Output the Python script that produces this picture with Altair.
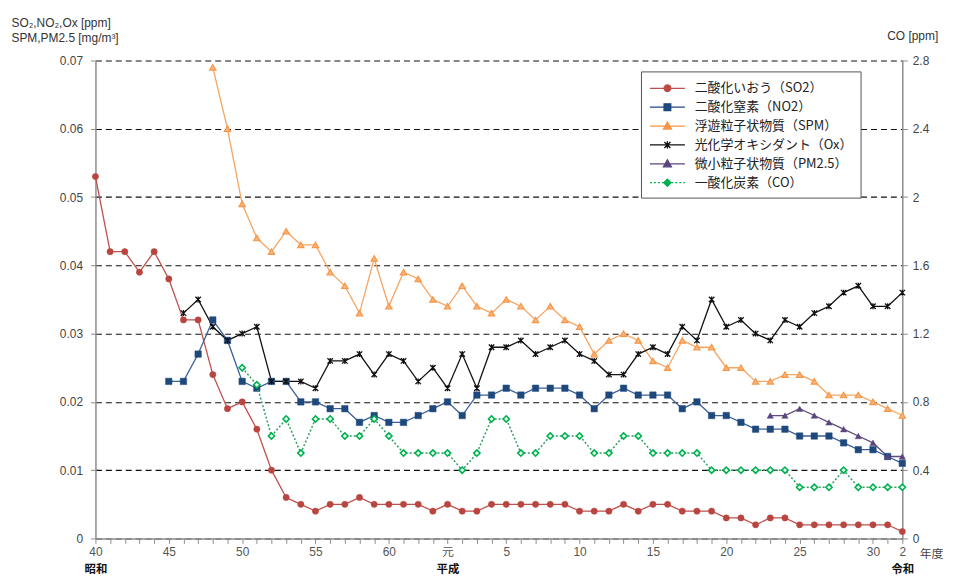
import altair as alt
import pandas as pd

# ---------------- data ----------------
so2_start = 1965
so2 = [0.053, 0.042, 0.042, 0.039, 0.042, 0.038, 0.032, 0.032, 0.024, 0.019,
       0.020, 0.016, 0.010, 0.006, 0.005, 0.004, 0.005, 0.005, 0.006, 0.005,
       0.005, 0.005, 0.005, 0.004, 0.005, 0.004, 0.004, 0.005, 0.005, 0.005,
       0.005, 0.005, 0.005, 0.004, 0.004, 0.004, 0.005, 0.004, 0.005, 0.005,
       0.004, 0.004, 0.004, 0.003, 0.003, 0.002, 0.003, 0.003, 0.002, 0.002,
       0.002, 0.002, 0.002, 0.002, 0.002, 0.001]

no2_start = 1970
no2 = [0.023, 0.023, 0.027, 0.032, 0.029, 0.023, 0.022, 0.023, 0.023, 0.020,
       0.020, 0.019, 0.019, 0.017, 0.018, 0.017, 0.017, 0.018, 0.019, 0.020,
       0.018, 0.021, 0.021, 0.022, 0.021, 0.022, 0.022, 0.022, 0.021, 0.019,
       0.021, 0.022, 0.021, 0.021, 0.021, 0.019, 0.020, 0.018, 0.018, 0.017,
       0.016, 0.016, 0.016, 0.015, 0.015, 0.015, 0.014, 0.013, 0.013, 0.012,
       0.011]

spm_start = 1973
spm = [0.069, 0.060, 0.049, 0.044, 0.042, 0.045, 0.043, 0.043, 0.039, 0.037,
       0.033, 0.041, 0.034, 0.039, 0.038, 0.035, 0.034, 0.037, 0.034, 0.033,
       0.035, 0.034, 0.032, 0.034, 0.032, 0.031, 0.027, 0.029, 0.030, 0.029,
       0.026, 0.025, 0.029, 0.028, 0.028, 0.025, 0.025, 0.023, 0.023, 0.024,
       0.024, 0.023, 0.021, 0.021, 0.021, 0.020, 0.019, 0.018]

ox_start = 1971
ox = [0.033, 0.035, 0.031, 0.029, 0.030, 0.031, 0.023, 0.023, 0.023, 0.022,
      0.026, 0.026, 0.027, 0.024, 0.027, 0.026, 0.023, 0.025, 0.022, 0.027,
      0.022, 0.028, 0.028, 0.029, 0.027, 0.028, 0.029, 0.027, 0.026, 0.024,
      0.024, 0.027, 0.028, 0.027, 0.031, 0.029, 0.035, 0.031, 0.032, 0.030,
      0.029, 0.032, 0.031, 0.033, 0.034, 0.036, 0.037, 0.034, 0.034, 0.036]

pm25_start = 2011
pm25 = [0.018, 0.018, 0.019, 0.018, 0.017, 0.016, 0.015, 0.014, 0.012, 0.012]

co_start = 1975
co = [1.0, 0.9, 0.6, 0.7, 0.5, 0.7, 0.7, 0.6, 0.6, 0.7,
      0.6, 0.5, 0.5, 0.5, 0.5, 0.4, 0.5, 0.7, 0.7, 0.5,
      0.5, 0.6, 0.6, 0.6, 0.5, 0.5, 0.6, 0.6, 0.5, 0.5,
      0.5, 0.5, 0.4, 0.4, 0.4, 0.4, 0.4, 0.4, 0.3, 0.3,
      0.3, 0.4, 0.3, 0.3, 0.3, 0.3]

names = ["二酸化いおう（SO2）", "二酸化窒素（NO2）", "浮遊粒子状物質（SPM）",
         "光化学オキシダント（Ox）", "微小粒子状物質（PM2.5）", "一酸化炭素（CO）"]

tick_years = list(range(1965, 2021))
year_labels = {1965: "40", 1970: "45", 1975: "50", 1980: "55", 1985: "60",
               1989: "元", 1993: "5", 1998: "10", 2003: "15", 2008: "20",
               2013: "25", 2018: "30", 2020: "2"}
era_labels = {1965: "昭和", 1989: "平成", 2020: "令和"}
left_ticks = [0, 0.01, 0.02, 0.03, 0.04, 0.05, 0.06, 0.07]
right_ticks = [0, 0.4, 0.8, 1.2, 1.6, 2.0, 2.4, 2.8]

# ---------------- table ----------------
rows = []
for nm, st, vals in [(names[0], so2_start, so2), (names[1], no2_start, no2),
                     (names[2], spm_start, spm), (names[3], ox_start, ox),
                     (names[4], pm25_start, pm25), (names[5], co_start, co)]:
    for i, v in enumerate(vals):
        rows.append({"year": st + i, "series": nm, "value": v})
df = pd.DataFrame(rows)


def expr_map(d):
    s = "''"
    for k in sorted(d, reverse=True):
        s = f"datum.value == {k} ? '{d[k]}' : ({s})"
    return s


NUM_FONT = "Liberation Sans"
JP_FONT = "Noto Sans CJK JP"
AX_GRAY = "#8c8c8c"

xscale = alt.Scale(domain=[1965, 2020], nice=False, zero=False)

x_num = alt.X("year:Q", scale=xscale, axis=alt.Axis(
    orient="bottom",
    values=tick_years, labelExpr=expr_map(year_labels), labelOverlap=False,
    labelFlush=False, grid=False, tickSize=5, tickColor=AX_GRAY,
    domainColor=AX_GRAY, domainWidth=1.5, labelPadding=3,
    labelFont=f"{NUM_FONT}, {JP_FONT}", labelFontSize=12, labelColor="#555",
    title="年度", titleX=841, titleY=15, titleBaseline="middle", titleAlign="center",
    titleFont=JP_FONT, titleFontSize=12, titleFontWeight="normal", titleColor="#444",
    zindex=1))

x_era = alt.X("year:Q", scale=xscale, axis=alt.Axis(
    orient="bottom",
    values=list(era_labels.keys()), labelExpr=expr_map(era_labels),
    labelOverlap=False, labelFlush=False, grid=False, ticks=False, domain=False,
    labelPadding=25, labelFont=JP_FONT, labelFontSize=11.5, labelFontWeight="bold",
    labelColor="#111", title=None))

y_left = alt.Y("value:Q", scale=alt.Scale(domain=[0, 0.07], nice=False), axis=alt.Axis(
    values=left_ticks, format=".2~f", grid=True, gridDash=[6, 4], gridColor="#111",
    gridWidth=1.1, tickSize=5, tickColor=AX_GRAY, domainColor=AX_GRAY, domainWidth=1.5,
    labelPadding=8, labelFont=NUM_FONT, labelFontSize=12, labelColor="#444",
    title=["SO₂,NO₂,Ox [ppm]", "SPM,PM2.5 [mg/m³]"], titleAngle=0, titleAlign="left",
    titleBaseline="top", titleX=-85, titleY=-43, titleLineHeight=15,
    titleFont=NUM_FONT, titleFontSize=12, titleFontWeight="normal", titleColor="#333"))

y_right = alt.Y("value:Q", scale=alt.Scale(domain=[0, 2.8], nice=False), axis=alt.Axis(
    orient="right", values=right_ticks, format=".1~f", grid=False, tickSize=5,
    tickColor=AX_GRAY, domainColor=AX_GRAY, domainWidth=1.5, labelPadding=5,
    labelFont=NUM_FONT, labelFontSize=12, labelColor="#444",
    title="CO [ppm]", titleAngle=0, titleAlign="center", titleBaseline="middle",
    titleX=10, titleY=-25, titleFont=NUM_FONT, titleFontSize=12,
    titleFontWeight="normal", titleColor="#333"))

line_colors = ["#C0504D", "#3B5F99", "#F5A664", "#111111", "#604A7B", "#2E9E62"]
mark_colors = ["#B8453F", "#1F497D", "#F79646", "#111111", "#5B4580", "#00B050"]

base = alt.Chart(df)


def sel(i):
    return base.transform_filter(alt.datum.series == names[i])


ox_path = "M-1,-1L1,1M-1,1L1,-1M0,-1.1V1.1"

left_layers = []
for i in range(5):
    left_layers.append(sel(i).mark_line(color=line_colors[i], strokeWidth=1.3)
                       .encode(x=x_num, y=y_left))
point_specs = [
    dict(shape="circle", filled=True, fill=mark_colors[0], stroke=mark_colors[0], strokeWidth=0.5, size=40),
    dict(shape="square", filled=True, fill=mark_colors[1], stroke=mark_colors[1], strokeWidth=0.5, size=42),
    dict(shape="triangle-up", filled=True, fill="#FAB47A", stroke=mark_colors[2], strokeWidth=1.2, size=40),
    dict(shape=ox_path, filled=False, stroke=mark_colors[3], strokeWidth=1.3, size=30),
    dict(shape="triangle-up", filled=True, fill=mark_colors[4], stroke=mark_colors[4], strokeWidth=0.5, size=40),
]
for i in range(5):
    left_layers.append(sel(i).mark_point(opacity=1, **point_specs[i])
                       .encode(x=x_num, y=y_left))

# legend (line + marker symbols) from a layer with no visible marks
legend_paths = [
    "M-1,0H3.4M1.62,0A0.42,0.42,0,1,1,0.78,0A0.42,0.42,0,1,1,1.62,0Z",
    "M-1,0H3.4M0.78,-0.42H1.62V0.42H0.78Z",
    "M-1,0H3.4M1.2,-0.5L1.7,0.38H0.7Z",
    "M-1,0H3.4M0.82,-0.38L1.58,0.38M0.82,0.38L1.58,-0.38M1.2,-0.45V0.45",
    "M-1,0H3.4M1.2,-0.5L1.7,0.38H0.7Z",
    "M-1,0H-0.75M-0.5,0H-0.25M0,0H0.25M0.5,0H0.7M1.7,0H1.95M2.2,0H2.45M2.7,0H2.95M3.2,0H3.4"
    "M1.2,-0.45L1.65,0L1.2,0.45L0.75,0Z",
]
legend_fill = [mark_colors[0], mark_colors[1], mark_colors[2], mark_colors[3], mark_colors[4], mark_colors[5]]
legend_stroke = [line_colors[0], mark_colors[1], mark_colors[2], mark_colors[3], mark_colors[4], mark_colors[5]]

leg = alt.Legend(orient="none", legendX=549, legendY=11, title=None, direction="vertical",
                 labelFont=JP_FONT, labelFontSize=13, labelColor="#222", labelOffset=28,
                 labelLimit=400, symbolSize=256, symbolStrokeWidth=1.3, padding=8,
                 rowPadding=3, strokeColor="#555", fillColor="white")

legend_df = pd.DataFrame({"series": names})
legend_layer = alt.Chart(legend_df).transform_filter("false").mark_point(
    filled=True, opacity=1).encode(
    fill=alt.Fill("series:N", scale=alt.Scale(domain=names, range=legend_fill), legend=leg),
    stroke=alt.Stroke("series:N", scale=alt.Scale(domain=names, range=legend_stroke), legend=leg),
    shape=alt.Shape("series:N", scale=alt.Scale(domain=names, range=legend_paths), legend=leg),
)
left_layers.append(legend_layer)

left = alt.layer(*left_layers)

co_line = sel(5).mark_line(color=line_colors[5], strokeWidth=1.5, strokeDash=[2, 2]).encode(
    x=x_era, y=y_right)
co_pts = sel(5).mark_point(shape="diamond", filled=True, fill="#E8FFF0", stroke=mark_colors[5],
                           strokeWidth=1.6, size=40, opacity=1).encode(x=x_era, y=y_right)
right = alt.layer(co_line, co_pts)

chart = alt.layer(left, right).resolve_scale(y="independent").resolve_axis(
    x="independent").properties(
    width=812, height=481,
    padding={"left": 88, "top": 51, "right": 49, "bottom": 38},
    autosize=alt.AutoSizeParams(type="none"),
    background="white",
).configure_view(stroke=None)

chart.save("out.html", embed_options={"renderer": "svg", "actions": False})
